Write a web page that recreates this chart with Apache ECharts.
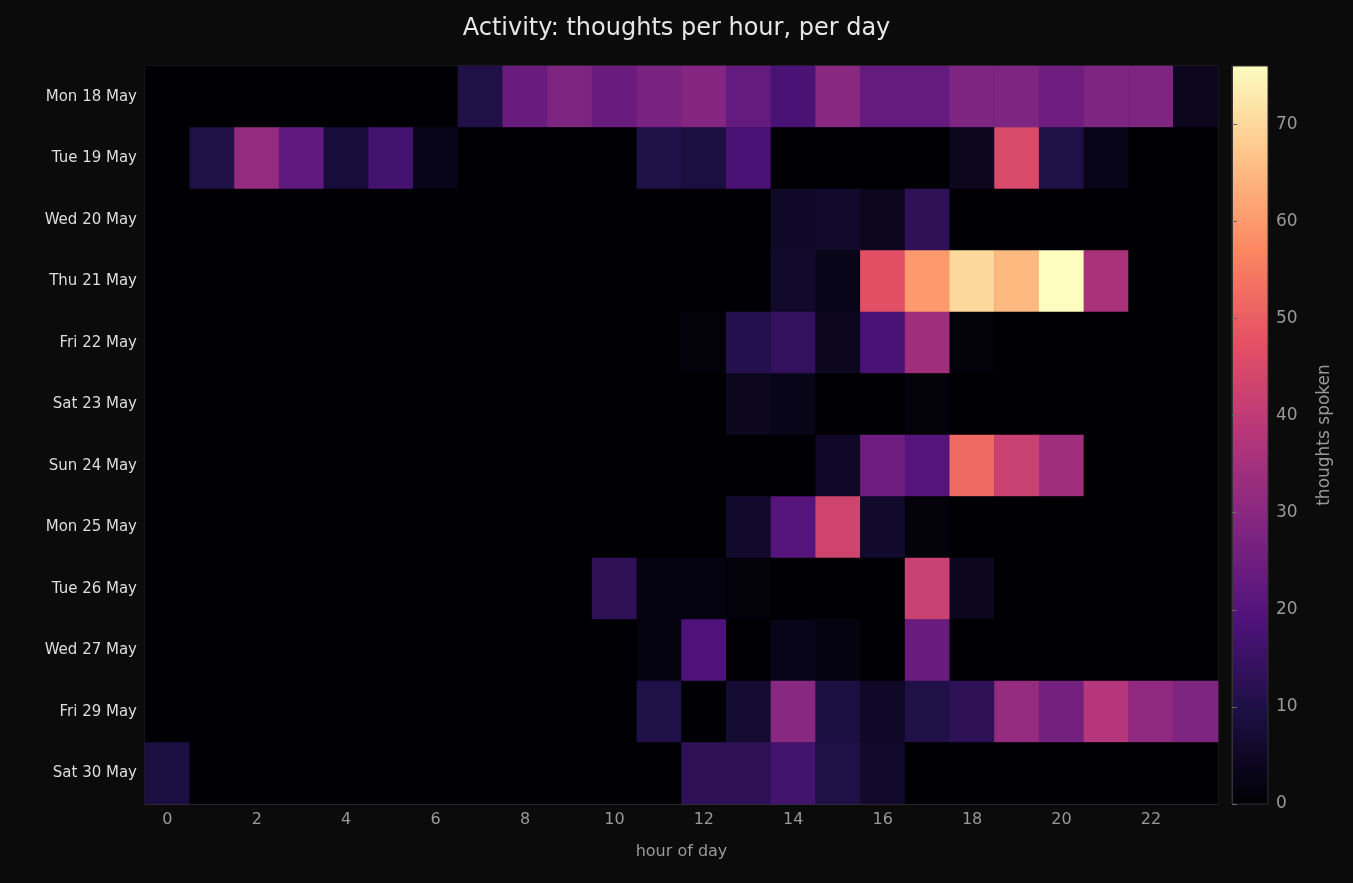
<!DOCTYPE html>
<html><head><meta charset="utf-8">
<script src="https://cdn.jsdelivr.net/npm/echarts@6/dist/echarts.min.js"></script>
<style>html,body{margin:0;background:#0b0b0b}#c{width:1353px;height:883px}</style>
</head><body><div id="c"></div>
<script>
const days = ['Mon 18 May','Tue 19 May','Wed 20 May','Thu 21 May','Fri 22 May','Sat 23 May','Sun 24 May','Mon 25 May','Tue 26 May','Wed 27 May','Fri 29 May','Sat 30 May'];
const hours = ['0','1','2','3','4','5','6','7','8','9','10','11','12','13','14','15','16','17','18','19','20','21','22','23'];
const mon18 = [0,0,0,0,0,0,0,10,24,28,24,27,29,23,18,30,23,23,28,28,25,28,28,4];
const tue19 = [0,10,32,22,8,17,3,0,0,0,0,10,9,18,0,0,0,0,4,45,10,3,0,0];
const wed20 = [0,0,0,0,0,0,0,0,0,0,0,0,0,0,5,6,4,13,0,0,0,0,0,0];
const thu21 = [0,0,0,0,0,0,0,0,0,0,0,0,0,0,6,3,47,60,70,65,76,36,0,0];
const fri22 = [0,0,0,0,0,0,0,0,0,0,0,0,1,11,14,4,18,34,1,0,0,0,0,0];
const sat23 = [0,0,0,0,0,0,0,0,0,0,0,0,0,4,3,0,0,1,0,0,0,0,0,0];
const sun24 = [0,0,0,0,0,0,0,0,0,0,0,0,0,0,0,5,25,20,52,42,34,0,0,0];
const mon25 = [0,0,0,0,0,0,0,0,0,0,0,0,0,6,20,43,6,1,0,0,0,0,0,0];
const tue26 = [0,0,0,0,0,0,0,0,0,0,13,2,2,1,0,0,0,42,4,0,0,0,0,0];
const wed27 = [0,0,0,0,0,0,0,0,0,0,0,2,19,0,3,2,0,24,0,0,0,0,0,0];
const fri29 = [0,0,0,0,0,0,0,0,0,0,0,10,0,7,30,9,5,10,13,32,26,38,31,28];
const sat30 = [9,0,0,0,0,0,0,0,0,0,0,0,13,13,17,10,6,0,0,0,0,0,0,0];
const rows = [mon18,tue19,wed20,thu21,fri22,sat23,sun24,mon25,tue26,wed27,fri29,sat30];
const cbTicks = [0,10,20,30,40,50,60,70];
const vmax = 76;
const magma = ['#000004','#1c1044','#4f127b','#812581','#b5367a','#e55064','#fb8761','#fec287','#fcfdbf'];
const data = [];
rows.forEach((r,y)=>r.forEach((v,x)=>data.push([x,y,v])));
const chart = echarts.init(document.getElementById('c'));
chart.setOption({
  backgroundColor:'#0b0b0b',
  title:{text:'Activity: thoughts per hour, per day',left:'center',top:12,textStyle:{color:'#e6e6e6',fontSize:24,fontWeight:'normal',fontFamily:'DejaVu Sans'}},
  grid:[{left:145,top:66,width:1073,height:738,backgroundColor:'#000004',show:true,borderColor:'#333'},
        {left:1232,top:66,width:36,height:738,show:true,borderColor:'#333'}],
  xAxis:[{type:'category',data:hours,gridIndex:0,axisLabel:{color:'#999',fontSize:16,interval:1,fontFamily:'DejaVu Sans'},axisTick:{interval:1,lineStyle:{color:'#666'}},axisLine:{lineStyle:{color:'#333'}},name:'hour of day',nameLocation:'middle',nameGap:40,nameTextStyle:{color:'#999',fontSize:16,fontFamily:'DejaVu Sans'},splitLine:{show:false}},
         {type:'value',gridIndex:1,show:false,min:0,max:1}],
  yAxis:[{type:'category',data:days,inverse:true,gridIndex:0,axisLabel:{color:'#ddd',fontSize:15,fontFamily:'DejaVu Sans'},axisTick:{alignWithLabel:true,lineStyle:{color:'#666'}},axisLine:{lineStyle:{color:'#333'}},splitLine:{show:false}},
         {type:'value',gridIndex:1,position:'right',min:0,max:vmax,interval:10,axisLabel:{color:'#999',fontSize:17,margin:8,fontFamily:'DejaVu Sans',customValues:cbTicks},axisTick:{show:true,inside:false,length:5,lineStyle:{color:'#666'},customValues:cbTicks},axisLine:{show:true,lineStyle:{color:'#333'}},splitLine:{show:false},name:'thoughts spoken',nameLocation:'middle',nameGap:48,nameRotate:90,nameTextStyle:{color:'#999',fontSize:17,fontFamily:'DejaVu Sans'}}],
  visualMap:{show:false,min:0,max:vmax,seriesIndex:0,inRange:{color:magma}},
  graphic:[{type:'rect',z:-1,shape:{x:1232,y:66,width:36,height:738},style:{fill:new echarts.graphic.LinearGradient(0,1,0,0,magma.map((c,i)=>({offset:i/(magma.length-1),color:c})))}}],
  series:[{type:'heatmap',data:data,xAxisIndex:0,yAxisIndex:0,itemStyle:{borderWidth:0},emphasis:{disabled:true}},
          {type:'scatter',xAxisIndex:1,yAxisIndex:1,data:[]}]
});
</script></body></html>
